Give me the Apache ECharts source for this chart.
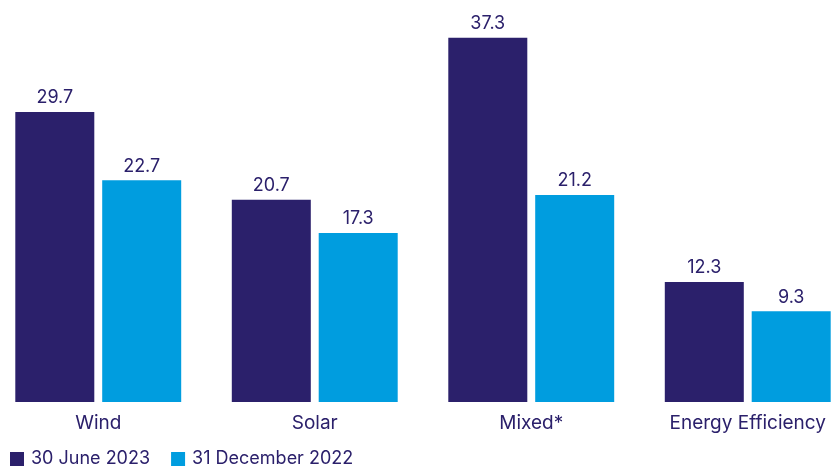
<!DOCTYPE html>
<html><head><meta charset="utf-8">
<script src="https://cdn.jsdelivr.net/npm/echarts@6/dist/echarts.min.js"></script>
<style>html,body{margin:0;padding:0;background:#fff}#c{width:832px;height:466px}</style>
</head><body><div id="c"></div>
<script>
const categories = ['Wind', 'Solar', 'Mixed*', 'Energy Efficiency'];
const june2023 = [29.7, 20.7, 37.3, 12.3];
const dec2022 = [22.7, 17.3, 21.2, 9.3];
const seriesNames = ['30 June 2023', '31 December 2022'];
const txt = '#2b206b';
const font = 'Inter';
const chart = echarts.init(document.getElementById('c'));
const lbl = {show: true, position: 'top', distance: 5, color: txt, fontSize: 18, fontFamily: font, formatter: p => p.value.toFixed(1)};
chart.setOption({
  animation: false,
  grid: {left: -10, width: 866, top: 11.4, bottom: 64, containLabel: false, outerBoundsMode: 'none'},
  legend: {left: 5, top: 445, itemWidth: 14, itemHeight: 14, itemGap: 21, icon: 'rect',
    textStyle: {color: txt, fontSize: 18, fontFamily: font, padding: [0, 0, 0, 2]}, data: seriesNames},
  xAxis: {type: 'category', data: categories, axisLine: {show: false}, axisTick: {show: false},
    axisLabel: {color: txt, fontSize: 19, fontFamily: font, margin: 12}},
  yAxis: {type: 'value', min: 0, max: 40, show: false, splitLine: {show: false}},
  series: [
    {name: seriesNames[0], type: 'bar', data: june2023, barWidth: 79, barGap: '10%', itemStyle: {color: '#2b206b'}, label: lbl},
    {name: seriesNames[1], type: 'bar', data: dec2022, barWidth: 79, itemStyle: {color: '#009ddf'}, label: lbl}
  ]
});
</script></body></html>
